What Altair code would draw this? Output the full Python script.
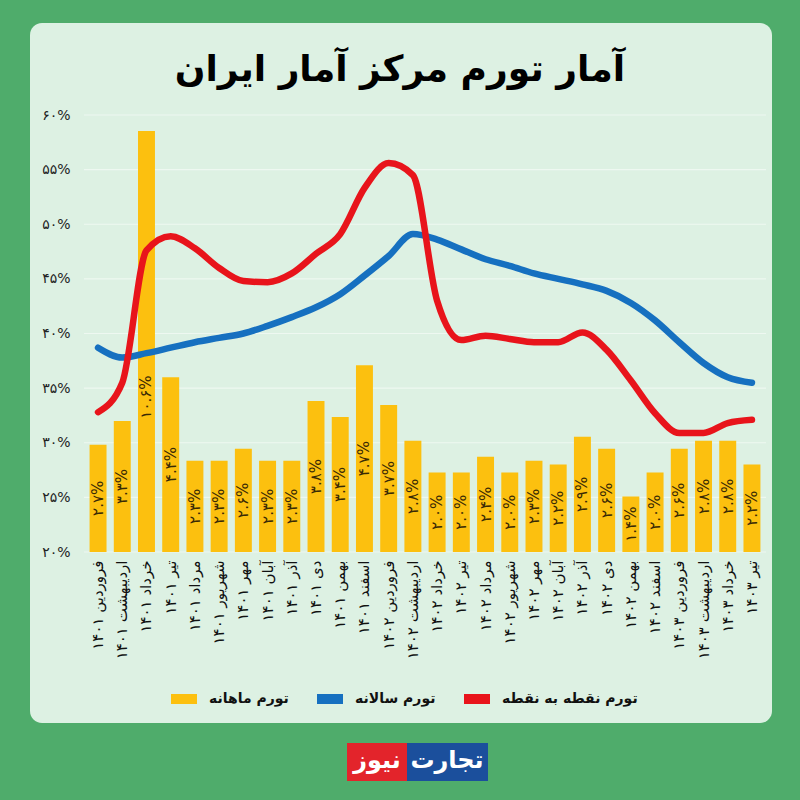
import altair as alt
import pandas as pd

FA = str.maketrans("0123456789", "۰۱۲۳۴۵۶۷۸۹")
def fa(s):
    return str(s).translate(FA)

# ---------------- data ----------------
month_names = ["فروردین", "اردیبهشت", "خرداد", "تیر", "مرداد", "شهریور",
               "مهر", "آبان", "آذر", "دی", "بهمن", "اسفند"]
years = [1401] * 12 + [1402] * 12 + [1403] * 4
month_idx = list(range(12)) + list(range(12)) + list(range(4))
categories = [f"{month_names[m]} {fa(y)}" for m, y in zip(month_idx, years)]

monthly = [2.7, 3.3, 10.6, 4.4, 2.3, 2.3, 2.6, 2.3, 2.3, 3.8, 3.4, 4.7,
           3.7, 2.8, 2.0, 2.0, 2.4, 2.0, 2.3, 2.2, 2.9, 2.6, 1.4, 2.0,
           2.6, 2.8, 2.8, 2.2]
annual = [38.7, 37.8, 38.2, 38.7, 39.2, 39.6, 40.0, 40.7, 41.5, 42.4, 43.6, 45.3,
          47.1, 49.1, 48.6, 47.7, 46.8, 46.2, 45.5, 45.0, 44.5, 43.9, 42.8, 41.2,
          39.2, 37.3, 36.0, 35.5]
point = [32.8, 35.5, 47.6, 48.9, 47.8, 46.0, 44.8, 44.7, 45.5, 47.3, 49.1, 53.3,
         55.6, 54.5, 43.0, 39.4, 39.8, 39.5, 39.2, 39.2, 40.1, 38.5, 35.7, 32.7,
         30.9, 30.9, 31.8, 32.1]

series_names = ["تورم ماهانه", "تورم سالانه", "تورم نقطه به نقطه"]
series_colors = ["#FCC00F", "#1670C0", "#E8141B"]

y_ticks = [20, 25, 30, 35, 40, 45, 50, 55, 60]
y_tick_labels = [fa(v) + "%" for v in y_ticks]

title_text = "آمار تورم مرکز آمار ایران"
logo_left = "نیوز"
logo_right = "تجارت"

FONT = "DejaVu Sans"
PANEL = "#DDF1E3"
GREEN = "#4FAC6B"

# ---------------- tables ----------------
bars_df = pd.DataFrame({
    "month": categories,
    "monthly": monthly,
    "label": [fa(v) + "%" for v in monthly],
})
lines_df = pd.DataFrame({
    "month": categories * 2,
    "value": annual + point,
    "series": [series_names[1]] * len(categories) + [series_names[2]] * len(categories),
    "order": list(range(len(categories))) * 2,
})
grid_df = pd.DataFrame({"v": y_ticks})
one = pd.DataFrame({"k": [0]})

# plot origin in page: (84, 115); plot 682 x 437
W, H = 682, 437
OX, OY = 84, 115

x_axis = alt.Axis(title=None, labelAngle=270, labelAlign="right", labelBaseline="middle",
                  labelFont=FONT, labelFontSize=15, labelColor="#111111",
                  labelPadding=8, ticks=False, domain=False, labelLimit=200,
                  zindex=1)
x_enc = alt.X("month:N", sort=categories,
              scale=alt.Scale(paddingInner=0.3, paddingOuter=0.23),
              axis=x_axis)

panel = alt.Chart(one).mark_rect(fill=PANEL, cornerRadius=12).encode(
    x=alt.value(30 - OX), x2=alt.value(772 - OX),
    y=alt.value(23 - OY), y2=alt.value(723 - OY),
)

grid = alt.Chart(grid_df).mark_rule(color="#EEF8F1", strokeWidth=1.2).encode(
    y=alt.Y("v:Q", scale=alt.Scale(domain=[20, 60]), axis=None)
)

bars = alt.Chart(bars_df).mark_bar(color=series_colors[0]).encode(
    x=x_enc,
    y=alt.Y("monthly:Q", scale=alt.Scale(domain=[0, 11], nice=False), axis=None),
)

bar_text = alt.Chart(bars_df).transform_calculate(
    ypos="min(datum.monthly / 2, 3.9)"
).mark_text(angle=270, align="center", baseline="middle", font=FONT,
            fontSize=15, color="#3A2A05").encode(
    x=x_enc,
    y=alt.Y("ypos:Q", scale=alt.Scale(domain=[0, 11], nice=False), axis=None),
    text="label:N",
)

lines = alt.Chart(lines_df).mark_line(strokeWidth=6.5, interpolate="monotone",
                                       strokeCap="round").encode(
    x=x_enc,
    y=alt.Y("value:Q", scale=alt.Scale(domain=[20, 60], nice=False),
            axis=alt.Axis(title=None, values=y_ticks, grid=False, ticks=False,
                          domain=False, labelFont=FONT, labelFontSize=14,
                          labelColor="#222222", labelPadding=14, zindex=1,
                          labelExpr="%s[indexof(%s, datum.value)]" % (
                              str(y_tick_labels), str(y_ticks)))),
    color=alt.Color("series:N", title=None,
                    scale=alt.Scale(domain=series_names, range=series_colors),
                    legend=alt.Legend(orient="none", legendX=82, legendY=566,
                                      direction="horizontal", symbolType="stroke",
                                      symbolStrokeWidth=10, symbolSize=676,
                                      labelFont=FONT, labelFontSize=14,
                                      labelFontWeight="bold", labelColor="#111111",
                                      labelOffset=7, columnPadding=8,
                                      values=series_names)),
    order="order:Q",
)

title = alt.Chart(one).mark_text(font=FONT, fontSize=36, fontWeight="bold",
                                 color="#000000", align="center",
                                 baseline="middle").encode(
    x=alt.value(400 - OX), y=alt.value(70 - OY), text=alt.value(title_text)
)

logo_red = alt.Chart(one).mark_rect(fill="#E3242B").encode(
    x=alt.value(347 - OX), x2=alt.value(407 - OX),
    y=alt.value(743 - OY), y2=alt.value(781 - OY))
logo_blue = alt.Chart(one).mark_rect(fill="#1B4F9C").encode(
    x=alt.value(407 - OX), x2=alt.value(488 - OX),
    y=alt.value(743 - OY), y2=alt.value(781 - OY))
logo_t1 = alt.Chart(one).mark_text(font=FONT, fontSize=24, fontWeight="bold",
                                   color="white", align="center",
                                   baseline="middle").encode(
    x=alt.value(377 - OX), y=alt.value(761 - OY), text=alt.value(logo_left))
logo_t2 = alt.Chart(one).mark_text(font=FONT, fontSize=24, fontWeight="bold",
                                   color="white", align="center",
                                   baseline="middle").encode(
    x=alt.value(447 - OX), y=alt.value(761 - OY), text=alt.value(logo_right))

chart = alt.layer(
    panel, grid, bars, bar_text, lines, title, logo_red, logo_blue, logo_t1, logo_t2
).resolve_scale(y="independent").properties(
    width=W, height=H,
    autosize=alt.AutoSizeParams(type="none"),
    padding={"left": OX, "top": OY, "right": 800 - OX - W, "bottom": 800 - OY - H},
    background=GREEN,
).configure_view(stroke=None)

chart.save("out.html", embed_options={"renderer": "svg", "actions": False})
